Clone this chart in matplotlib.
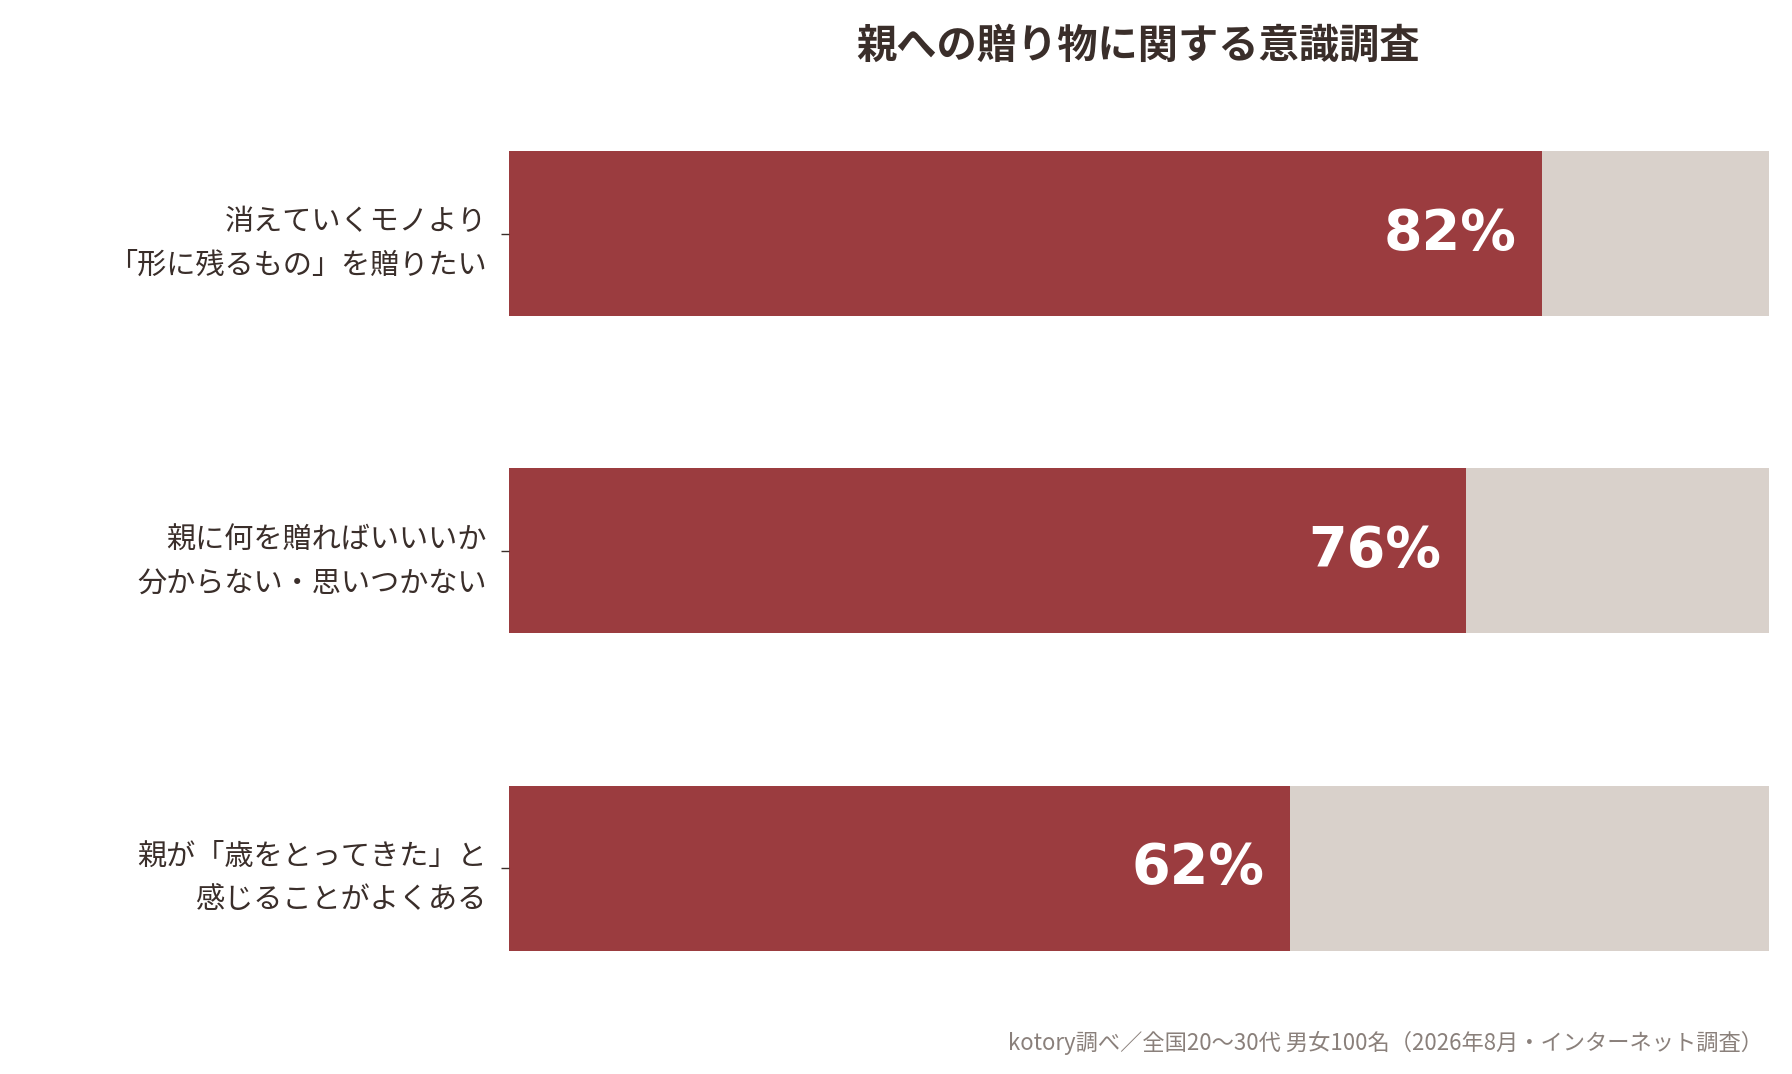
import matplotlib.pyplot as plt

plt.rcParams['font.family'] = ['Noto Sans CJK JP', 'DejaVu Sans']

labels = ["消えていくモノより\n「形に残るもの」を贈りたい",
          "親に何を贈ればいいいか\n分からない・思いつかない",
          "親が「歳をとってきた」と\n感じることがよくある"]
values = [82, 76, 62]
title = "親への贈り物に関する意識調査"
note = "kotory調べ／全国20〜30代 男女100名（2026年8月・インターネット調査）"

red = "#9B3C3F"
gray = "#D9D1CB"
txt = "#3A2E2A"

fig = plt.figure(figsize=(17.92, 10.74), dpi=100)
ax = fig.add_axes([0.284, 0.044, 0.703, 0.886])
pos = list(range(len(values)))
ax.barh(pos, [100] * len(values), height=0.52, color=gray)
ax.barh(pos, values, height=0.52, color=red)
for p, v in zip(pos, values):
    ax.text(v - 2, p, f"{v}%", ha="right", va="center", color="white",
            fontsize=40, fontweight="bold", family=['DejaVu Sans'])
ax.set_xlim(0, 100)
ax.set_ylim(2.5, -0.5)
ax.set_yticks(pos)
ax.set_yticklabels(labels, fontsize=21, color=txt, linespacing=1.6, ha="right")
ax.tick_params(axis='y', length=6, width=1, color=txt, pad=10)
ax.set_xticks([])
for s in ax.spines.values():
    s.set_visible(False)

fig.text(0.635, 0.957, title, ha="center", va="center", fontsize=29,
         fontweight="bold", color=txt)
fig.text(0.984, 0.029, note, ha="right", va="center", fontsize=16, color="#8A807B")

fig.savefig("out.png", dpi=100)
